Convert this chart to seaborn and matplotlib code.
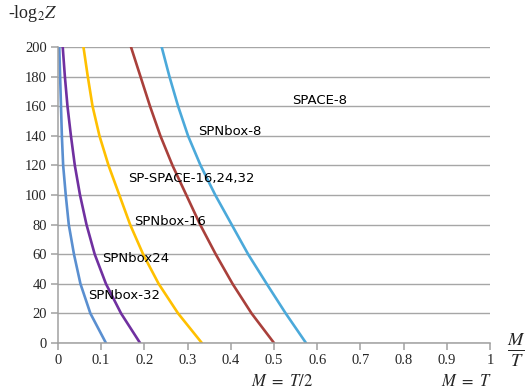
import numpy as np
import pandas as pd
import matplotlib
matplotlib.use('Agg')
import matplotlib.pyplot as plt
import seaborn as sns

sns.set_theme(style='white')
plt.rcParams['font.family'] = ['DejaVu Sans']
plt.rcParams['mathtext.fontset'] = 'stix'

### Data
y_levels = [0, 20, 40, 60, 80, 100, 120, 140, 160, 180, 200]
x_spnbox32 = [0.111, 0.075, 0.052, 0.037, 0.025, 0.018, 0.012, 0.009, 0.007, 0.005, 0.003]
x_spnbox24 = [0.190, 0.146, 0.111, 0.085, 0.066, 0.051, 0.039, 0.030, 0.022, 0.016, 0.011]
x_spnbox16 = [0.333, 0.278, 0.233, 0.197, 0.167, 0.142, 0.117, 0.096, 0.080, 0.069, 0.059]
x_spspace = [0.500, 0.448, 0.404, 0.365, 0.329, 0.297, 0.265, 0.237, 0.213, 0.191, 0.169]
x_spnbox8 = [0.574, 0.527, 0.483, 0.440, 0.402, 0.364, 0.330, 0.301, 0.278, 0.258, 0.240]

series = ['SPNbox-32', 'SPNbox24', 'SPNbox-16', 'SP-SPACE-16,24,32', 'SPNbox-8']
colors = ['#5A8FD0', '#7030A0', '#FFC000', '#A9403B', '#4BA9DA']
xs = [x_spnbox32, x_spnbox24, x_spnbox16, x_spspace, x_spnbox8]

x_ticks = [0, 0.1, 0.2, 0.3, 0.4, 0.5, 0.6, 0.7, 0.8, 0.9, 1]
x_ticklabels = ['0', '0.1', '0.2', '0.3', '0.4', '0.5', '0.6', '0.7', '0.8', '0.9', '1']
y_ticks = [0, 20, 40, 60, 80, 100, 120, 140, 160, 180, 200]

# label name, x, y (data coords)
labels = [('SPACE-8', 0.542, 164), ('SPNbox-8', 0.324, 143),
          ('SP-SPACE-16,24,32', 0.162, 111), ('SPNbox-16', 0.176, 82),
          ('SPNbox24', 0.102, 57), ('SPNbox-32', 0.069, 32)]

df = pd.concat([pd.DataFrame({'x': x, 'y': y_levels, 'series': s})
                for s, x in zip(series, xs)], ignore_index=True)

fig = plt.figure(figsize=(5.27, 3.92), dpi=100)
ax = fig.add_axes([0.110, 0.125, 0.820, 0.755])

sns.lineplot(data=df, x='x', y='y', hue='series', palette=dict(zip(series, colors)),
             sort=False, estimator=None, linewidth=1.9, legend=False, ax=ax)

ax.set_xlim(0, 1)
ax.set_ylim(0, 200)
ax.set_xticks(x_ticks)
ax.set_xticklabels(x_ticklabels)
ax.set_yticks(y_ticks)
ax.yaxis.grid(True, color='#A6A6A6', linewidth=1.0)
ax.xaxis.grid(False)
ax.set_axisbelow(True)
for side in ['top', 'right']:
    ax.spines[side].set_visible(False)
for side in ['left', 'bottom']:
    ax.spines[side].set_color('#A0A0A0')
    ax.spines[side].set_linewidth(1.1)
ax.tick_params(axis='both', direction='out', length=5, width=1.1, color='#A0A0A0',
               bottom=True, left=True, labelsize=10.5, pad=3)
for t in ax.get_xticklabels() + ax.get_yticklabels():
    t.set_family('Liberation Serif')
ax.set_xlabel('')
ax.set_ylabel('')

for name, lx, ly in labels:
    ax.text(lx, ly, name, fontsize=9.5, va='center', ha='left', color='black')

fig.text(8 / 527, 1 - 13 / 392, r'-log$_2$$Z$', fontsize=13, family='Liberation Serif',
         va='center', ha='left')
fig.text(516 / 527, 1 - 350 / 392, r'$\frac{M}{T}$', fontsize=19, va='center', ha='center')
fig.text(282 / 527, 1 - 381 / 392, r'$M\ =\ T/2$', fontsize=12, va='center', ha='center')
fig.text(466 / 527, 1 - 381 / 392, r'$M\ =\ T$', fontsize=12, va='center', ha='center')

fig.savefig('out.png', dpi=100)
